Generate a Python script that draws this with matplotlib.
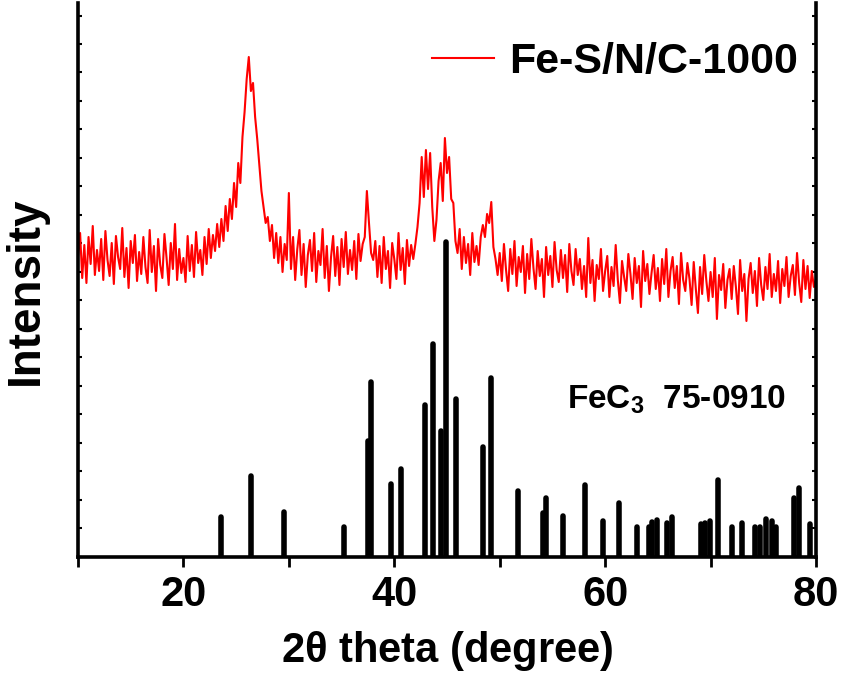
import numpy as np
import matplotlib
matplotlib.use('Agg')
import matplotlib.pyplot as plt

plt.rcParams['font.family'] = ['Liberation Sans', 'DejaVu Sans']
plt.rcParams['font.weight'] = 'bold'
plt.rcParams['mathtext.fontset'] = 'custom'
plt.rcParams['mathtext.rm'] = 'Liberation Sans:bold'
plt.rcParams['mathtext.default'] = 'rm'

# measured XRD pattern (arbitrary intensity units), 10-80 deg, step 0.2 deg
two_theta = np.linspace(10, 80, 351)
intensity = [
    300, 324, 279, 312, 274, 320, 293, 331, 282, 307,
    286, 318, 277, 326, 297, 281, 314, 273, 321, 300,
    288, 329, 280, 309, 269, 316, 294, 322, 276, 305,
    283, 320, 290, 274, 327, 285, 311, 266, 318, 292,
    279, 323, 299, 272, 314, 288, 333, 277, 308, 284,
    299, 275, 321, 286, 312, 280, 325, 294, 307, 282,
    320, 293, 328, 299, 322, 306, 333, 310, 338, 316,
    351, 326, 358, 338, 374, 350, 394, 374, 420, 445,
    478, 500, 466, 474, 440, 418, 392, 366, 350, 334,
    340, 316, 332, 299, 324, 294, 320, 285, 313, 297,
    364, 288, 320, 277, 308, 327, 282, 313, 270, 302,
    317, 286, 324, 275, 306, 292, 328, 279, 311, 266,
    300, 321, 281, 310, 272, 318, 290, 325, 283, 307,
    287, 316, 278, 323, 296, 313, 320, 366, 334, 304,
    297, 316, 280, 311, 274, 320, 288, 306, 269, 314,
    298, 278, 324, 287, 309, 273, 317, 291, 312, 298,
    313, 330, 354, 400, 360, 407, 368, 404, 350, 316,
    337, 376, 394, 356, 419, 384, 400, 358, 354, 316,
    304, 328, 288, 320, 294, 313, 282, 324, 295, 311,
    292, 320, 332, 320, 343, 334, 355, 310, 298, 282,
    304, 276, 313, 287, 266, 308, 283, 316, 271, 300,
    285, 311, 264, 303, 278, 318, 289, 268, 306, 281,
    298, 260, 310, 282, 301, 270, 315, 287, 275, 307,
    279, 302, 265, 313, 286, 272, 308, 282, 298, 268,
    291, 260, 319, 274, 297, 256, 292, 278, 308, 266,
    286, 301, 260, 290, 271, 312, 277, 254, 296, 280,
    266, 303, 283, 258, 299, 274, 291, 250, 306, 276,
    293, 263, 284, 302, 268, 289, 256, 298, 273, 308,
    260, 286, 300, 269, 291, 253, 304, 277, 266, 294,
    278, 252, 295, 268, 244, 290, 263, 302, 276, 256,
    285, 260, 299, 238, 282, 267, 293, 249, 277, 288,
    258, 291, 270, 243, 297, 266, 283, 236, 278, 294,
    264, 286, 251, 299, 272, 257, 290, 268, 303, 260,
    283, 266, 296, 254, 288, 271, 300, 260, 281, 292,
    262, 304, 274, 255, 297, 268, 291, 259, 286, 270,
    278,
]

# reference card FeC3 75-0910: peak positions and relative heights
ref_pos = [23.59, 26.37, 29.52, 35.26, 37.53, 37.78, 39.73, 40.68, 42.89,
           43.71, 44.46, 44.87, 45.82, 48.44, 49.13, 51.75, 54.08, 54.40,
           55.97, 58.06, 59.79, 61.27, 63.00, 64.17, 64.49, 64.90, 65.84,
           66.38, 69.09, 69.46, 69.94, 70.73, 72.06, 72.94, 74.20, 74.68,
           75.30, 75.78, 76.25, 77.89, 78.39, 79.40]
ref_int = [40, 81, 45, 30, 116, 175, 73, 88, 152,
           213, 126, 315, 158, 110, 179, 66, 44, 59,
           41, 72, 36, 54, 30, 30, 35, 37, 34,
           40, 33, 34, 36, 77, 30, 34, 30, 30,
           38, 36, 30, 59, 69, 33]

xticks = [10, 20, 30, 40, 50, 60, 70, 80]
xticklabels = ['', '20', '', '40', '', '60', '', '80']

fig = plt.figure(figsize=(8.45, 6.82), dpi=100)
ax = fig.add_axes([0.0923, 0.1833, 0.8734, 0.8123])

ax.plot(two_theta, intensity, color='red', lw=1.5, label='Fe-S/N/C-1000', zorder=2)
sticks = ax.vlines(ref_pos, 0, ref_int, color='black', lw=4.0, zorder=3)
sticks.set_capstyle('round')

ax.text(56.35, 148, 'FeC$_{3}$  75-0910', fontsize=24, fontweight='bold',
        ha='left', va='baseline')

ax.set_xlim(10, 80)
ax.set_ylim(0, 554)
ax.set_xticks(xticks)
ax.set_xticklabels(xticklabels, fontsize=30, fontweight='bold')
ax.set_yticks(np.arange(0, 554, 28.5))
ax.set_yticklabels([])
ax.tick_params(axis='x', direction='out', length=7, width=2, pad=6)
ax.tick_params(axis='y', direction='in', length=3, width=1.5, left=True, right=True)

for side in ['left', 'right', 'bottom']:
    ax.spines[side].set_linewidth(2.6)
ax.spines['top'].set_visible(False)

ax.set_xlabel(r'2$\mathregular{\theta}$ theta (degree)', fontsize=30, fontweight='bold',
              labelpad=10)
ax.set_ylabel('Intensity', fontsize=33, fontweight='bold')
ax.yaxis.set_label_coords(-0.041, 0.48)

ax.legend(loc='upper right', bbox_to_anchor=(0.976, 0.93), frameon=False,
          prop={'size': 31, 'weight': 'bold'}, handlelength=1.45,
          handletextpad=0.35, borderaxespad=0, borderpad=0)

fig.savefig('out.png', dpi=100)
